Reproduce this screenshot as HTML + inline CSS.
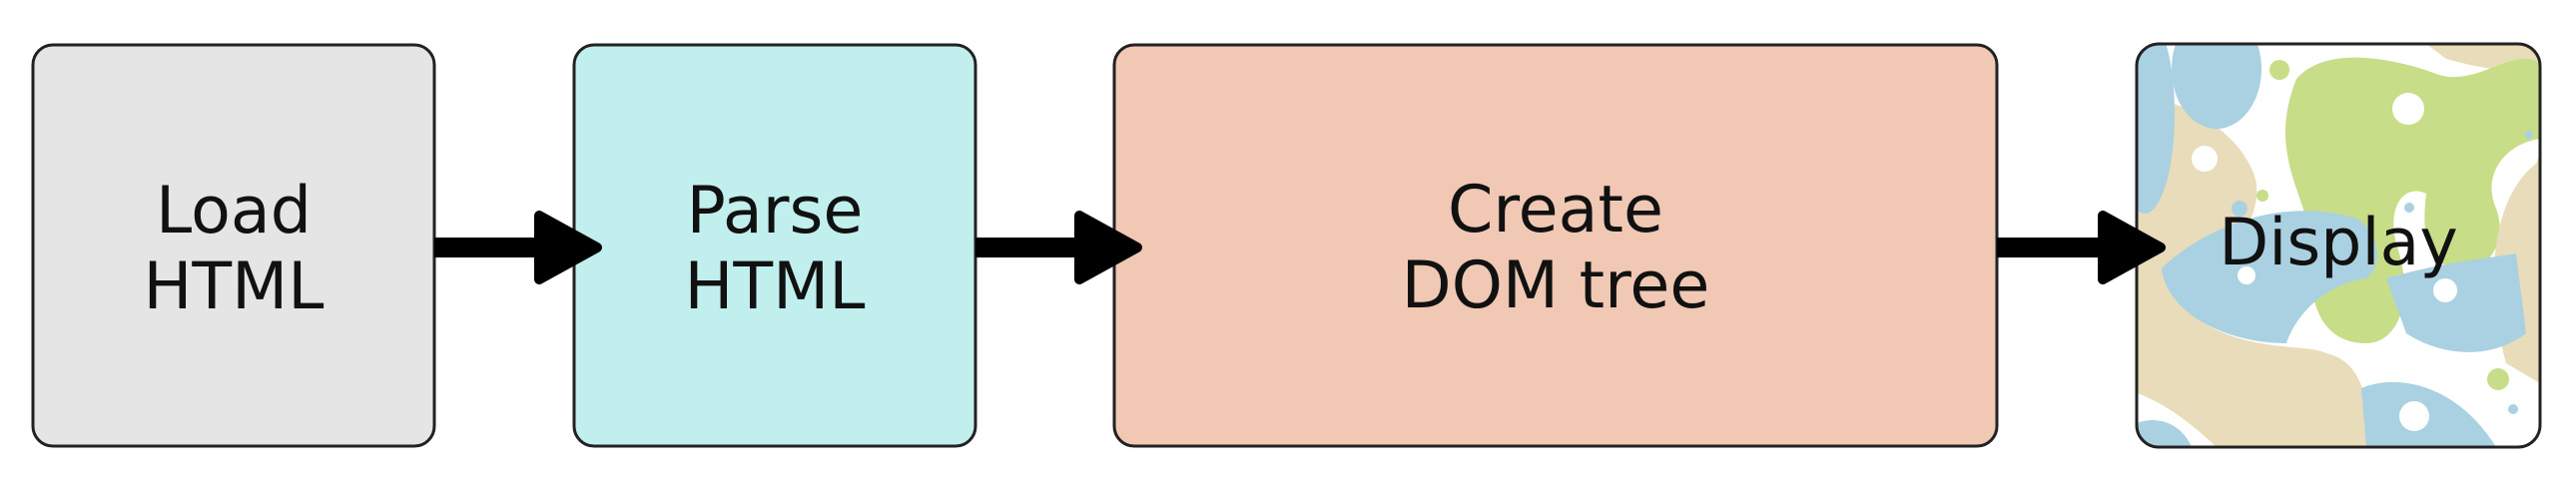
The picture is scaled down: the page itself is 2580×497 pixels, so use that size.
<!DOCTYPE html>
<html><head><meta charset="utf-8"><style>
html,body{margin:0;padding:0;background:#fff;}
svg{display:block;}
text{font-family:"DejaVu Sans","Liberation Sans",sans-serif;font-size:65px;fill:#111;text-anchor:middle;}
</style></head><body>
<svg width="2580" height="497" viewBox="0 0 2580 497" xmlns="http://www.w3.org/2000/svg">
<defs>
<clipPath id="c"><rect x="2140" y="44" width="404" height="404" rx="22"/></clipPath>
</defs>
<!-- boxes -->
<rect x="33" y="45" width="402" height="402" rx="20" fill="#e5e5e5" stroke="#222" stroke-width="3"/>
<rect x="575" y="45" width="402" height="402" rx="20" fill="#c0efee" stroke="#222" stroke-width="3"/>
<rect x="1116" y="45" width="884" height="402" rx="20" fill="#f0c8b4" stroke="#222" stroke-width="3"/>
<!-- display pattern -->
<g clip-path="url(#c)">
<rect x="2140" y="44" width="404" height="404" fill="#fff"/>
<g transform="translate(2140,44)">
<path d="M0,55 C40,50 110,90 120,140 C125,190 70,230 60,275 C110,310 170,300 190,310 C230,320 230,360 235,404 L0,404 Z" fill="#e8dcba"/>
<path d="M0,350 C30,360 60,385 80,404 L0,404 Z" fill="#fff"/>
<path d="M0,380 C20,372 45,380 55,404 L0,404Z" fill="#a9d1e2"/>
<ellipse cx="8" cy="70" rx="30" ry="100" fill="#a9d1e2"/>
<ellipse cx="80" cy="25" rx="45" ry="60" fill="#a9d1e2"/>
<path d="M290,0 L404,0 L404,25 C360,30 330,20 310,15 Z" fill="#e8dcba"/>
<path d="M160,35 C190,0 260,15 300,30 C340,45 380,0 404,20 L404,95 C370,100 345,130 360,165 C370,190 360,230 320,225 C290,220 285,190 290,150 C270,140 250,160 260,200 C280,260 260,300 230,300 C180,300 170,250 175,200 C170,150 130,110 160,35 Z" fill="#c8dd88"/>
<path d="M400,120 C360,150 345,230 370,320 L404,340 L404,110 Z" fill="#e8dcba"/>
<path d="M25,225 C60,190 140,150 220,175 C240,185 250,220 230,235 C190,240 160,270 150,300 C90,300 30,270 25,225 Z" fill="#a9d1e2"/>
<path d="M250,235 C300,220 350,215 380,210 L390,290 C350,320 300,310 270,290 Z" fill="#a9d1e2"/>
<path d="M225,345 C260,330 320,340 360,404 L230,404 Z" fill="#a9d1e2"/>
<circle cx="68" cy="115" r="13" fill="#fff"/>
<circle cx="272" cy="65" r="16" fill="#fff"/>
<circle cx="110" cy="232" r="9" fill="#fff"/>
<circle cx="309" cy="247" r="12" fill="#fff"/>
<circle cx="278" cy="373" r="15" fill="#fff"/>
<circle cx="143" cy="26" r="10" fill="#c8dd88"/>
<circle cx="126" cy="152" r="6" fill="#c8dd88"/>
<circle cx="362" cy="336" r="11" fill="#c8dd88"/>
<circle cx="103" cy="165" r="8" fill="#a9d1e2"/>
<circle cx="273" cy="164" r="5" fill="#a9d1e2"/>
<circle cx="393" cy="91" r="4" fill="#a9d1e2"/>
<circle cx="377" cy="366" r="5" fill="#a9d1e2"/>
</g>
</g>
<rect x="2140" y="44" width="404" height="404" rx="22" fill="none" stroke="#222" stroke-width="3"/>
<!-- arrows -->
<g fill="#000" stroke="#000" stroke-linejoin="round">
<rect x="435" y="238" width="110" height="20" stroke="none"/>
<path d="M540,216 L598,248 L540,280 Z" stroke-width="10"/>
<rect x="977" y="238" width="110" height="20" stroke="none"/>
<path d="M1081,216 L1139,248 L1081,280 Z" stroke-width="10"/>
<rect x="2000" y="238" width="110" height="20" stroke="none"/>
<path d="M2106,216 L2164,248 L2106,280 Z" stroke-width="10"/>
</g>
<!-- labels -->
<text x="234" y="233">Load</text>
<text x="234" y="309">HTML</text>
<text x="776" y="233">Parse</text>
<text x="776" y="309">HTML</text>
<text x="1558" y="232">Create</text>
<text x="1558" y="308">DOM tree</text>
<text x="2342" y="265">Display</text>
</svg>
</body></html>
